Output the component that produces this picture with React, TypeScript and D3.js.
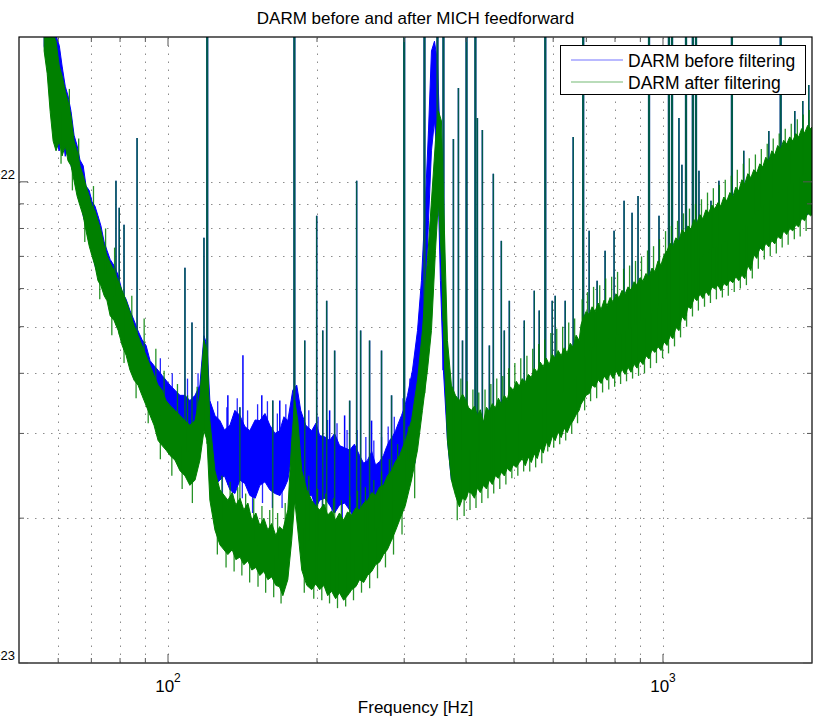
import React, { useRef, useEffect } from "react";
import * as d3 from "d3";

// amplitude values below are given in units of 1e-23
const UNIT = 1e-23;

// noisy trace envelope: [frequency Hz, lower edge, upper edge]
const beforeBand: [number, number, number][] = [
  [56.2, 19.15, 21.6], [57.0, 17.7, 21.1], [57.8, 15.1, 20.6], [58.6, 12.8, 20.6],
  [59.4, 12.2, 20.1], [60.3, 11.6, 19.2], [61.1, 12.8, 17.4], [62.0, 11.3, 15.8],
  [62.8, 11.9, 15.1], [63.7, 10.8, 14.0], [64.6, 10.3, 12.5], [65.5, 9.6, 11.9],
  [66.4, 9.35, 11.1], [67.4, 8.5, 10.8], [68.3, 8.1, 9.8], [69.3, 7.5, 9.6],
  [70.2, 7.2, 9.1], [71.2, 6.7, 8.9], [72.2, 6.4, 8.5], [73.2, 6.2, 8.1],
  [74.3, 6.1, 7.5], [75.3, 5.8, 7.2], [76.4, 5.7, 6.9], [77.8, 5.3, 6.7],
  [79.3, 5.0, 6.4], [80.8, 4.8, 5.9], [82.3, 4.6, 5.7], [83.8, 4.25, 5.4],
  [85.4, 4.06, 5.15], [87.0, 3.87, 4.9], [88.6, 3.78, 4.7], [90.3, 3.6, 4.57],
  [92.0, 3.51, 4.25], [93.7, 3.35, 4.15], [95.5, 3.19, 4.06], [97.3, 3.12, 3.96],
  [99.1, 3.04, 3.87], [100.9, 3.04, 3.78], [103.3, 2.97, 3.69], [105.7, 2.9, 3.6],
  [108.2, 2.83, 3.6], [110.7, 2.77, 3.51], [113.4, 2.77, 3.6], [116.0, 2.83, 3.78],
  [118.2, 3.19, 4.79], [119.9, 3.04, 4.57], [121.5, 2.51, 3.51], [124.4, 2.34, 3.27],
  [127.3, 2.4, 3.19], [130.0, 2.45, 3.05], [133.4, 2.29, 3.12], [136.5, 2.25, 3.35],
  [139.7, 2.4, 3.27], [143.0, 2.36, 3.1], [146.3, 2.23, 3.04], [150.0, 2.2, 3.2],
  [153.3, 2.34, 3.19], [157.0, 2.38, 3.3], [160.6, 2.29, 3.12], [164.5, 2.25, 3.0],
  [168.2, 2.23, 3.04], [171.5, 2.3, 3.25], [174.6, 2.4, 3.19], [178.7, 2.77, 3.69],
  [182.0, 2.77, 3.78], [185.4, 2.4, 3.35], [189.8, 2.23, 3.12], [195.1, 2.23, 3.04],
  [199.0, 2.1, 3.15], [202.5, 2.18, 2.97], [207.5, 2.2, 2.95], [212.1, 2.13, 2.9],
  [217.0, 2.05, 3.0], [222.2, 2.13, 2.83], [227.5, 2.15, 2.8], [232.8, 2.08, 2.77],
  [238.0, 2.0, 2.85], [243.8, 2.03, 2.7], [248.5, 2.08, 2.6], [253.0, 1.98, 2.64],
  [258.0, 1.93, 2.75], [262.6, 1.98, 2.58], [267.5, 2.05, 2.62], [272.5, 2.03, 2.7],
  [276.0, 2.08, 2.8], [280.2, 2.13, 2.9], [284.0, 2.2, 2.95], [288.2, 2.23, 3.04],
  [292.0, 2.3, 3.15], [296.3, 2.4, 3.27], [300.5, 2.5, 3.4], [304.7, 2.64, 3.6],
  [311.8, 2.9, 4.06], [319.2, 3.35, 4.91], [325.1, 4.25, 6.23], [331.2, 5.66, 9.13],
  [335.9, 8.3, 12.76], [340.6, 11.6, 18.7], [345.4, 13.4, 19.6], [350.2, 11.1, 17.8],
  [355.1, 6.23, 11.6], [360.1, 4.06, 6.54], [366.9, 2.9, 4.25], [373.7, 2.4, 3.6],
  [387.9, 2.3, 3.3], [421.7, 2.4, 3.15], [458.5, 2.55, 3.25], [498.4, 2.7, 3.5],
  [541.9, 2.8, 3.75], [589.1, 3.0, 4.0], [640.4, 3.2, 4.25], [677.1, 3.5, 4.55],
  [709.3, 3.85, 5.1], [771.1, 4.05, 5.35], [838.3, 4.2, 5.6], [911.3, 4.4, 6.0],
  [990.8, 4.75, 6.5], [1077, 5.2, 7.3], [1171, 5.9, 7.95], [1273, 6.2, 8.55],
  [1384, 6.45, 9.1], [1505, 7.0, 9.9], [1636, 7.55, 10.7], [1778, 8.0, 11.6],
  [1880, 8.3, 12.1], [2000, 8.7, 12.6],
];

const afterBand: [number, number, number][] = [
  [56.2, 18.7, 21.6], [57.0, 16.8, 21.1], [57.8, 14.0, 20.6], [58.6, 12.16, 20.3],
  [59.4, 11.6, 19.6], [60.3, 12.16, 17.4], [61.1, 11.32, 16.6], [62.0, 11.88, 15.44],
  [62.8, 11.06, 14.7], [63.7, 10.8, 13.7], [64.6, 10.05, 12.16], [65.5, 9.35, 11.6],
  [66.4, 8.92, 10.8], [67.4, 8.5, 10.29], [68.3, 7.91, 9.81], [69.3, 7.36, 9.35],
  [70.2, 7.02, 8.92], [71.2, 6.69, 8.71], [72.2, 6.23, 8.3], [73.2, 6.08, 7.91],
  [74.3, 5.8, 7.36], [75.3, 5.66, 7.02], [76.4, 5.27, 6.79], [77.8, 5.15, 6.54],
  [79.3, 4.91, 6.23], [80.8, 4.57, 5.94], [82.3, 4.36, 5.66], [83.8, 4.06, 5.35],
  [85.4, 3.87, 5.03], [87.0, 3.78, 4.79], [88.6, 3.6, 4.57], [90.3, 3.43, 4.36],
  [92.0, 3.27, 4.15], [93.7, 3.12, 3.96], [95.5, 2.9, 3.78], [97.3, 2.83, 3.69],
  [99.1, 2.77, 3.51], [100.9, 2.7, 3.43], [103.3, 2.64, 3.35], [105.7, 2.51, 3.27],
  [108.2, 2.45, 3.19], [110.7, 2.34, 3.12], [113.4, 2.4, 3.19], [116.0, 2.64, 3.6],
  [118.2, 3.04, 4.68], [119.9, 2.9, 4.46], [121.5, 2.18, 3.19], [124.4, 1.89, 2.51],
  [127.3, 1.76, 2.29], [132.1, 1.68, 2.18], [134.8, 1.72, 2.26], [137.1, 1.64, 2.13],
  [139.8, 1.66, 2.2], [142.3, 1.6, 2.08], [145.0, 1.63, 2.15], [147.7, 1.56, 1.98],
  [150.5, 1.58, 2.05], [153.3, 1.52, 1.93], [156.2, 1.55, 2.0], [159.1, 1.49, 1.89],
  [162.0, 1.51, 1.95], [165.1, 1.45, 1.84], [168.0, 1.44, 1.92], [170.6, 1.38, 1.89],
  [174.6, 1.49, 2.08], [177.8, 1.8, 2.9], [180.3, 2.18, 3.51], [182.9, 1.89, 3.19],
  [186.3, 1.56, 2.51], [190.7, 1.45, 2.29], [195.1, 1.42, 2.18], [198.8, 1.46, 2.12],
  [202.5, 1.42, 2.08], [206.5, 1.45, 2.14], [210.2, 1.38, 2.03], [214.0, 1.41, 2.07],
  [218.1, 1.36, 1.98], [222.0, 1.4, 2.05], [226.4, 1.35, 1.98], [230.5, 1.38, 2.06],
  [235.0, 1.42, 2.03], [239.5, 1.44, 2.1], [243.8, 1.49, 2.08], [248.5, 1.47, 2.15],
  [253.0, 1.52, 2.18], [258.0, 1.55, 2.26], [262.6, 1.6, 2.23], [267.5, 1.62, 2.32],
  [272.5, 1.68, 2.34], [277.5, 1.72, 2.45], [282.9, 1.8, 2.51], [288.0, 1.88, 2.62],
  [293.6, 1.98, 2.7], [301.8, 2.13, 2.9], [310.4, 2.4, 3.19], [319.2, 2.77, 3.87],
  [326.6, 3.35, 4.91], [334.3, 4.06, 6.86], [340.6, 4.91, 9.13], [347.0, 7.19, 12.16],
  [351.8, 9.13, 14.04], [356.8, 6.86, 13.38], [361.8, 4.25, 7.91], [366.9, 2.9, 4.68],
  [373.7, 2.4, 3.78], [380.8, 2.23, 3.6], [387.9, 2.11, 3.51], [393.5, 2.2, 3.62],
  [399.1, 2.18, 3.53], [404.5, 2.27, 3.4], [410.3, 2.25, 3.35], [416.0, 2.2, 3.42],
  [421.7, 2.31, 3.27], [427.5, 2.26, 3.36], [433.6, 2.34, 3.16], [440.0, 2.3, 3.4],
  [445.9, 2.4, 3.33], [452.0, 2.35, 3.46], [458.5, 2.45, 3.39], [465.0, 2.42, 3.55],
  [471.4, 2.49, 3.45], [478.0, 2.45, 3.6], [484.7, 2.54, 3.53], [491.5, 2.5, 3.75],
  [498.4, 2.58, 3.69], [505.5, 2.55, 3.85], [512.5, 2.61, 3.76], [519.5, 2.66, 3.9],
  [527.0, 2.57, 3.83], [534.5, 2.68, 3.98], [541.9, 2.61, 3.92], [549.5, 2.72, 4.1],
  [557.2, 2.66, 4.02], [565.0, 2.8, 4.22], [572.9, 2.73, 4.13], [581.0, 2.88, 4.3],
  [589.1, 2.81, 4.17], [597.5, 2.96, 4.38], [605.7, 2.9, 4.3], [614.0, 3.02, 4.46],
  [622.8, 2.94, 4.35], [631.5, 3.08, 4.52], [640.4, 3.01, 4.41], [649.5, 3.12, 4.62],
  [658.5, 3.19, 4.53], [667.5, 3.28, 4.8], [677.1, 3.35, 4.68], [683.0, 3.45, 5.05],
  [689.8, 3.51, 5.2], [699.5, 3.6, 5.38], [709.3, 3.63, 5.3], [719.0, 3.78, 5.5],
  [729.3, 3.74, 5.38], [739.5, 3.88, 5.6], [749.9, 3.81, 5.43], [760.5, 3.95, 5.68],
  [771.1, 3.87, 5.53], [782.0, 4.0, 5.75], [792.9, 3.9, 5.63], [804.0, 4.05, 5.85],
  [815.2, 3.94, 5.74], [826.5, 4.08, 5.95], [838.3, 3.98, 5.85], [850.0, 4.12, 6.05],
  [861.9, 4.02, 5.96], [874.0, 4.18, 6.2], [886.3, 4.1, 6.11], [898.5, 4.25, 6.32],
  [911.3, 4.17, 6.23], [924.0, 4.35, 6.45], [937.1, 4.29, 6.35], [950.0, 4.48, 6.62],
  [963.5, 4.42, 6.51], [977.0, 4.55, 6.85], [990.8, 4.46, 6.72], [1005, 4.65, 7.05],
  [1019, 4.57, 7.19], [1033, 4.8, 7.45], [1047, 4.72, 7.36], [1062, 4.98, 7.65],
  [1077, 4.91, 7.54], [1092, 5.25, 7.95], [1108, 5.15, 7.83], [1123, 5.5, 8.1],
  [1139, 5.45, 7.98], [1155, 5.75, 8.35], [1171, 5.66, 8.22], [1187, 5.85, 8.55],
  [1204, 5.72, 8.38], [1221, 5.92, 8.75], [1238, 5.8, 8.63], [1255, 6.05, 8.95],
  [1273, 5.99, 8.79], [1291, 6.1, 9.05], [1309, 5.94, 8.92], [1327, 6.15, 9.3],
  [1346, 6.08, 9.13], [1365, 6.25, 9.5], [1384, 6.17, 9.31], [1403, 6.35, 9.75],
  [1423, 6.23, 9.58], [1443, 6.4, 10.1], [1463, 6.29, 9.91], [1484, 6.7, 10.4],
  [1505, 6.54, 10.2], [1526, 7.05, 10.6], [1547, 6.93, 10.44], [1569, 7.3, 10.9],
  [1591, 7.19, 10.75], [1613, 7.45, 11.25], [1636, 7.33, 11.06], [1659, 7.55, 11.6],
  [1682, 7.43, 11.38], [1705, 7.7, 11.9], [1729, 7.62, 11.71], [1753, 7.9, 12.2],
  [1778, 7.77, 11.99], [1803, 8.0, 12.4], [1829, 7.91, 12.16], [1855, 8.15, 12.6],
  [1880, 8.06, 12.4], [1906, 8.4, 12.9], [1933, 8.3, 12.64], [1960, 8.6, 13.1],
  [1988, 8.5, 12.89], [2000, 8.55, 13.0],
];

// narrow spectral lines present in both spectra: [frequency Hz, peak]
const linesBoth: [number, number][] = [
  [78.5, 10.05], [79.7, 8.83], [81.5, 8.14], [86.6, 12.34], [108.2, 6.63],
  [111.8, 5.1], [118.2, 7.65], [120, 30], [139.7, 3.4], [162.8, 3.51],
  [180, 30], [188.9, 4.68], [199.7, 8.5], [205.4, 4.91], [209.2, 5.66],
  [217.1, 4.46], [232.8, 3.51], [240.5, 10.05], [245.0, 4.91], [255.4, 4.68],
  [270.0, 4.46], [282.9, 3.6], [300, 30], [329.7, 30], [350.2, 30],
  [360.1, 30], [377.2, 12.28], [386.1, 15.67], [393.5, 4.68], [400.9, 30],
  [417.8, 30], [421.7, 13.58], [431.6, 12.82], [445.9, 4.57], [454.2, 10.39],
  [471.4, 7.54], [478.0, 4.91], [489.3, 5.66], [524.5, 5.15], [549.5, 5.94],
  [562.3, 5.4], [578.3, 30], [597.3, 5.66], [605.7, 5.8], [634.5, 5.66],
  [658.5, 12.4], [689.8, 30], [709.3, 7.91], [736.1, 6.23], [763.9, 7.19],
  [796.5, 7.91], [834.4, 9.13], [866.0, 8.63], [890.4, 9.35], [937.1, 30],
  [981.6, 8.5], [1028, 30], [1043, 30], [1077, 13.58], [1092, 10.85],
  [1113, 30], [1149, 30], [1166, 30], [1182, 10.54], [1250, 9.13],
  [1297, 10.05], [1378, 30], [1456, 11.6], [1562, 10.29], [1636, 12.76],
  [1729, 30], [1795, 11.6], [1846, 14.04], [1916, 14.72], [1970, 15.89],
];

// lines that only show in the spectrum before filtering
const linesBefore: [number, number][] = [
  [132.1, 3.6], [141.7, 4.36], [154.7, 3.6], [168.2, 3.51], [212.1, 3.35],
  [227.4, 3.27], [257.8, 3.19],
];

// short noise excursions out of each band: [frequency Hz, value]
const teethBefore: [number, number][] = [
  [93.0, 3.2], [96.5, 4.3], [102.0, 4.0], [106.8, 2.7], [109.5, 3.9],
  [112.0, 2.65], [115.0, 4.0], [122.8, 2.2], [126.0, 3.5], [128.8, 2.15],
  [131.5, 3.4], [135.0, 2.1], [138.0, 3.55], [141.3, 2.2], [144.8, 3.35],
  [148.2, 2.05], [151.7, 3.45], [155.2, 2.15], [158.8, 3.5], [162.5, 2.1],
  [166.3, 3.3], [170.0, 2.1], [173.0, 3.45], [187.5, 2.1], [192.5, 3.35],
  [197.0, 2.05], [201.0, 3.25], [205.0, 2.0], [210.0, 3.2], [214.5, 1.95],
  [219.5, 3.15], [225.0, 2.0], [230.0, 3.05], [235.5, 1.9], [241.0, 3.05],
  [246.0, 1.92], [251.0, 2.95], [255.5, 1.85], [260.5, 2.9], [265.0, 1.88],
  [270.0, 2.95], [274.5, 1.95], [278.5, 3.1], [282.5, 2.0], [286.5, 3.25],
  [290.5, 2.1], [298.5, 3.55], [302.5, 2.3], [308.0, 3.9], [315.5, 2.6],
  [322.0, 4.9],
];

const teethAfter: [number, number][] = [
  [60.8, 10.9], [63.2, 15.6], [64.1, 9.6], [66.0, 12.3], [67.9, 7.5],
  [70.7, 9.8], [72.8, 5.7], [74.8, 8.0], [77.0, 4.8], [78.0, 7.3],
  [81.5, 4.2], [84.5, 5.8], [86.2, 3.55], [89.5, 5.2], [91.2, 3.15],
  [94.5, 4.5], [96.5, 2.65], [98.2, 4.05], [101.8, 2.45], [104.5, 3.8],
  [106.8, 2.3], [109.5, 3.6], [112.0, 2.15], [114.5, 3.75],
  [125.8, 1.68], [128.5, 2.45], [131.0, 1.58], [133.5, 2.38], [136.0, 1.55],
  [138.3, 2.32], [141.0, 1.52], [143.5, 2.25], [146.2, 1.47], [149.0, 2.2],
  [152.0, 1.44], [154.8, 2.12], [157.5, 1.4], [160.5, 2.08], [163.5, 1.37],
  [166.5, 2.05], [169.2, 1.33], [172.5, 2.15], [188.5, 1.4], [192.5, 2.45],
  [197.0, 1.36], [200.5, 2.3], [204.5, 1.35], [208.3, 2.25], [212.0, 1.33],
  [216.0, 2.2], [220.0, 1.3], [224.0, 2.18], [228.5, 1.31], [233.0, 2.22],
  [237.0, 1.35], [241.5, 2.28], [246.0, 1.4], [250.5, 2.32], [255.5, 1.43],
  [260.5, 2.4], [265.0, 1.5], [270.0, 2.5], [275.0, 1.58], [280.0, 2.65],
  [285.5, 1.68], [291.0, 2.85], [297.0, 1.85], [306.0, 3.1], [315.0, 2.2],
  [384.0, 1.98], [390.5, 3.9], [396.5, 2.02], [402.0, 3.85], [407.5, 2.08],
  [413.0, 3.7], [419.0, 2.1], [424.5, 3.65], [430.5, 2.15], [437.0, 3.7],
  [443.0, 2.2], [449.0, 3.8], [455.0, 2.25], [461.5, 3.9], [468.0, 2.3],
  [474.5, 3.95], [481.5, 2.35], [488.0, 4.1], [495.0, 2.42], [502.0, 4.2],
  [509.0, 2.45], [516.0, 4.3], [523.0, 2.5], [531.0, 4.35], [538.0, 2.5],
  [545.5, 4.5], [553.0, 2.55], [561.0, 4.6], [569.0, 2.6], [577.0, 4.7],
  [585.0, 2.75], [593.5, 4.85], [601.5, 2.8], [610.0, 4.95], [618.5, 2.85],
  [627.0, 5.0], [636.0, 2.9], [645.0, 5.1], [654.0, 3.0], [663.0, 5.2],
  [672.0, 3.15], [686.5, 5.7], [694.5, 3.35], [704.0, 5.9], [714.0, 3.5],
  [724.0, 6.05], [734.5, 3.55], [745.0, 6.1], [755.0, 3.65], [766.0, 6.3],
  [777.0, 3.7], [787.5, 6.35], [798.5, 3.75], [809.5, 6.5], [821.0, 3.8],
  [832.5, 6.6], [844.0, 3.85], [856.0, 6.7], [868.0, 3.9], [880.0, 6.85],
  [892.5, 3.95], [905.0, 7.0], [917.5, 4.0], [930.5, 7.2], [943.5, 4.1],
  [957.0, 7.35], [970.0, 4.2], [984.0, 7.6], [998.0, 4.3], [1012, 7.9],
  [1026, 4.4], [1040, 8.1], [1055, 4.55], [1070, 8.3], [1085, 4.75],
  [1100, 8.6], [1116, 5.0], [1131, 8.8], [1147, 5.25], [1163, 9.0],
  [1179, 5.4], [1196, 9.2], [1213, 5.5], [1230, 9.5], [1247, 5.6],
  [1264, 9.7], [1282, 5.7], [1300, 9.85], [1318, 5.75], [1336, 10.1],
  [1355, 5.8], [1374, 10.3], [1393, 5.9], [1413, 10.6], [1433, 6.0],
  [1453, 10.9], [1474, 6.1], [1494, 11.2], [1515, 6.3], [1537, 11.4],
  [1558, 6.6], [1580, 11.7], [1602, 6.9], [1624, 12.0], [1647, 7.0],
  [1670, 12.3], [1694, 7.1], [1717, 12.6], [1741, 7.3], [1766, 12.9],
  [1790, 7.4], [1816, 13.2], [1842, 7.6], [1868, 13.5], [1893, 7.7],
  [1920, 13.8], [1946, 7.9], [1974, 14.1],
];

const seriesNames = ["DARM before filtering", "DARM after filtering"];
const seriesColors = ["#0000ff", "#008000"];

const xMajor = [100, 1000];
const xMinor = [60, 70, 80, 90, 200, 300, 400, 500, 600, 700, 800, 900, 2000];
const yMajor = [1e-23, 1e-22];
const yMinor = [2e-23, 3e-23, 4e-23, 5e-23, 6e-23, 7e-23, 8e-23, 9e-23, 2e-22];

const W = 817;
const H = 721;
const FONT = "'Liberation Sans', Helvetica, Arial, sans-serif";

type Band = [number, number, number][];

const App = () => {
  const svgRef = useRef<SVGSVGElement>(null);

  useEffect(() => {
    const svg = d3.select(svgRef.current);
    svg.selectAll("*").remove();

    const left = 19, right = 812, top = 37, bottom = 663;
    const x = d3.scaleLog().domain([50, 2000]).range([left, right]);
    const y = d3.scaleLog().domain([1e-23, 2e-22]).range([bottom, top]);

    svg.append("rect").attr("width", W).attr("height", H).attr("fill", "#fff");

    svg.append("defs").append("clipPath").attr("id", "plotClip")
      .append("rect")
      .attr("x", left).attr("y", top)
      .attr("width", right - left).attr("height", bottom - top);

    // dotted grid
    const grid = svg.append("g")
      .attr("stroke", "#8c8c8c")
      .attr("stroke-width", 1)
      .attr("stroke-dasharray", "1.5,6.5");
    grid.selectAll("line.gx")
      .data([...xMajor, ...xMinor].filter(d => d < 2000))
      .join("line")
      .attr("class", "gx")
      .attr("x1", d => Math.round(x(d)) + 0.5).attr("x2", d => Math.round(x(d)) + 0.5)
      .attr("y1", bottom).attr("y2", top);
    grid.selectAll("line.gy")
      .data([...yMajor, ...yMinor].filter(d => d > 1e-23 && d < 2e-22))
      .join("line")
      .attr("class", "gy")
      .attr("x1", left).attr("x2", right)
      .attr("y1", d => Math.round(y(d)) + 0.5).attr("y2", d => Math.round(y(d)) + 0.5);

    const plot = svg.append("g").attr("clip-path", "url(#plotClip)");

    const area = d3.area<[number, number, number]>()
      .x(d => x(d[0]))
      .y0(d => y(d[1] * UNIT))
      .y1(d => y(d[2] * UNIT));

    // band edges at frequency f (log interpolation between samples)
    const edgeAt = (band: Band, f: number, k: 1 | 2) => {
      const i = d3.bisector((d: [number, number, number]) => d[0]).left(band, f);
      if (i <= 0) return band[0][k];
      if (i >= band.length) return band[band.length - 1][k];
      const a = band[i - 1], b = band[i];
      const t = (Math.log(f) - Math.log(a[0])) / (Math.log(b[0]) - Math.log(a[0]));
      return a[k] + t * (b[k] - a[k]);
    };
    const midAt = (band: Band, f: number) => Math.sqrt(edgeAt(band, f, 1) * edgeAt(band, f, 2));

    const drawSeries = (band: Band, lines: [number, number][], teeth: [number, number][], color: string, lineOpacity: number) => {
      const g = plot.append("g");
      g.append("path")
        .datum(band)
        .attr("d", area)
        .attr("fill", color)
        .attr("stroke", color)
        .attr("stroke-width", 1);
      g.selectAll("line.tooth")
        .data(teeth)
        .join("line")
        .attr("class", "tooth")
        .attr("x1", d => x(d[0])).attr("x2", d => x(d[0]))
        .attr("y1", d => y(midAt(band, d[0]) * UNIT))
        .attr("y2", d => y(d[1] * UNIT))
        .attr("stroke", color)
        .attr("stroke-opacity", 0.85)
        .attr("stroke-width", 1.3);
      g.selectAll("line.spike")
        .data(lines)
        .join("line")
        .attr("class", "spike")
        .attr("x1", d => x(d[0])).attr("x2", d => x(d[0]))
        .attr("y1", d => y(edgeAt(band, d[0], 1) * UNIT))
        .attr("y2", d => y(d[1] * UNIT))
        .attr("stroke", color)
        .attr("stroke-opacity", lineOpacity)
        .attr("stroke-width", d => (d[1] >= 20 ? 2.2 : 1.5));
    };

    drawSeries(beforeBand, [...linesBoth, ...linesBefore], teethBefore, seriesColors[0], 1);
    drawSeries(afterBand, linesBoth, teethAfter, seriesColors[1], 0.7);

    // axes box and inward ticks
    const axes = svg.append("g").attr("fill", "none");
    axes.append("rect")
      .attr("x", left).attr("y", top)
      .attr("width", right - left).attr("height", bottom - top)
      .attr("stroke", "#000")
      .attr("stroke-width", 1.2);

    const xt = [...xMajor.map(v => ({ v, len: 9 })), ...xMinor.filter(v => v < 2000).map(v => ({ v, len: 5 }))];
    const yt = [...yMajor.map(v => ({ v, len: 9 })), ...yMinor.filter(v => v < 2e-22).map(v => ({ v, len: 5 }))];
    const tickG = axes.append("g").attr("stroke", "#555");
    tickG.selectAll("line.xb").data(xt).join("line").attr("class", "xb")
      .attr("x1", d => x(d.v)).attr("x2", d => x(d.v))
      .attr("y1", bottom).attr("y2", d => bottom - d.len);
    tickG.selectAll("line.xt").data(xt).join("line").attr("class", "xt")
      .attr("x1", d => x(d.v)).attr("x2", d => x(d.v))
      .attr("y1", top).attr("y2", d => top + d.len);
    tickG.selectAll("line.yl").data(yt).join("line").attr("class", "yl")
      .attr("y1", d => y(d.v)).attr("y2", d => y(d.v))
      .attr("x1", left).attr("x2", d => left + d.len);
    tickG.selectAll("line.yr").data(yt).join("line").attr("class", "yr")
      .attr("y1", d => y(d.v)).attr("y2", d => y(d.v))
      .attr("x1", right).attr("x2", d => right - d.len);

    // x tick labels 10^n
    const labels = svg.append("g").attr("font-family", FONT).attr("fill", "#000");
    xMajor.forEach(v => {
      const t = labels.append("text")
        .attr("x", x(v))
        .attr("y", 692)
        .attr("text-anchor", "middle");
      t.append("tspan").attr("font-size", 17).text("10");
      t.append("tspan").attr("font-size", 12).attr("dy", -10).text(String(Math.round(Math.log10(v))));
    });

    // y tick labels, cut off by the left edge as in the original export
    yMajor.forEach(v => {
      const t = labels.append("text")
        .attr("x", 15)
        .attr("y", y(v) + 5)
        .attr("text-anchor", "end");
      t.append("tspan").attr("font-size", 17).text("10");
      t.append("tspan").attr("font-size", 13).attr("dy", -8).text("\u2212" + Math.round(-Math.log10(v)));
    });

    // title and axis label
    svg.append("text")
      .attr("x", (left + right) / 2).attr("y", 24)
      .attr("text-anchor", "middle")
      .attr("font-family", FONT).attr("font-size", 17)
      .text("DARM before and after MICH feedforward");
    svg.append("text")
      .attr("x", (left + right) / 2).attr("y", 713)
      .attr("text-anchor", "middle")
      .attr("font-family", FONT).attr("font-size", 17)
      .text("Frequency [Hz]");

    // legend
    const lg = svg.append("g");
    lg.append("rect")
      .attr("x", 560.5).attr("y", 45.5)
      .attr("width", 245).attr("height", 49)
      .attr("fill", "#fff").attr("stroke", "#000").attr("stroke-width", 1);
    seriesNames.forEach((name, i) => {
      const ly = 60 + i * 22;
      lg.append("line")
        .attr("x1", 571).attr("x2", 623)
        .attr("y1", ly).attr("y2", ly)
        .attr("stroke", seriesColors[i]).attr("stroke-opacity", 0.55).attr("stroke-width", 1.2);
      lg.append("text")
        .attr("x", 628).attr("y", ly + 6.5)
        .attr("font-family", FONT).attr("font-size", 17.5)
        .text(name);
    });
  }, []);

  return (
    <svg
      ref={svgRef}
      width={W}
      height={H}
      style={{ position: "absolute", left: 0, top: 0, display: "block" }}
    />
  );
};

export default App;
